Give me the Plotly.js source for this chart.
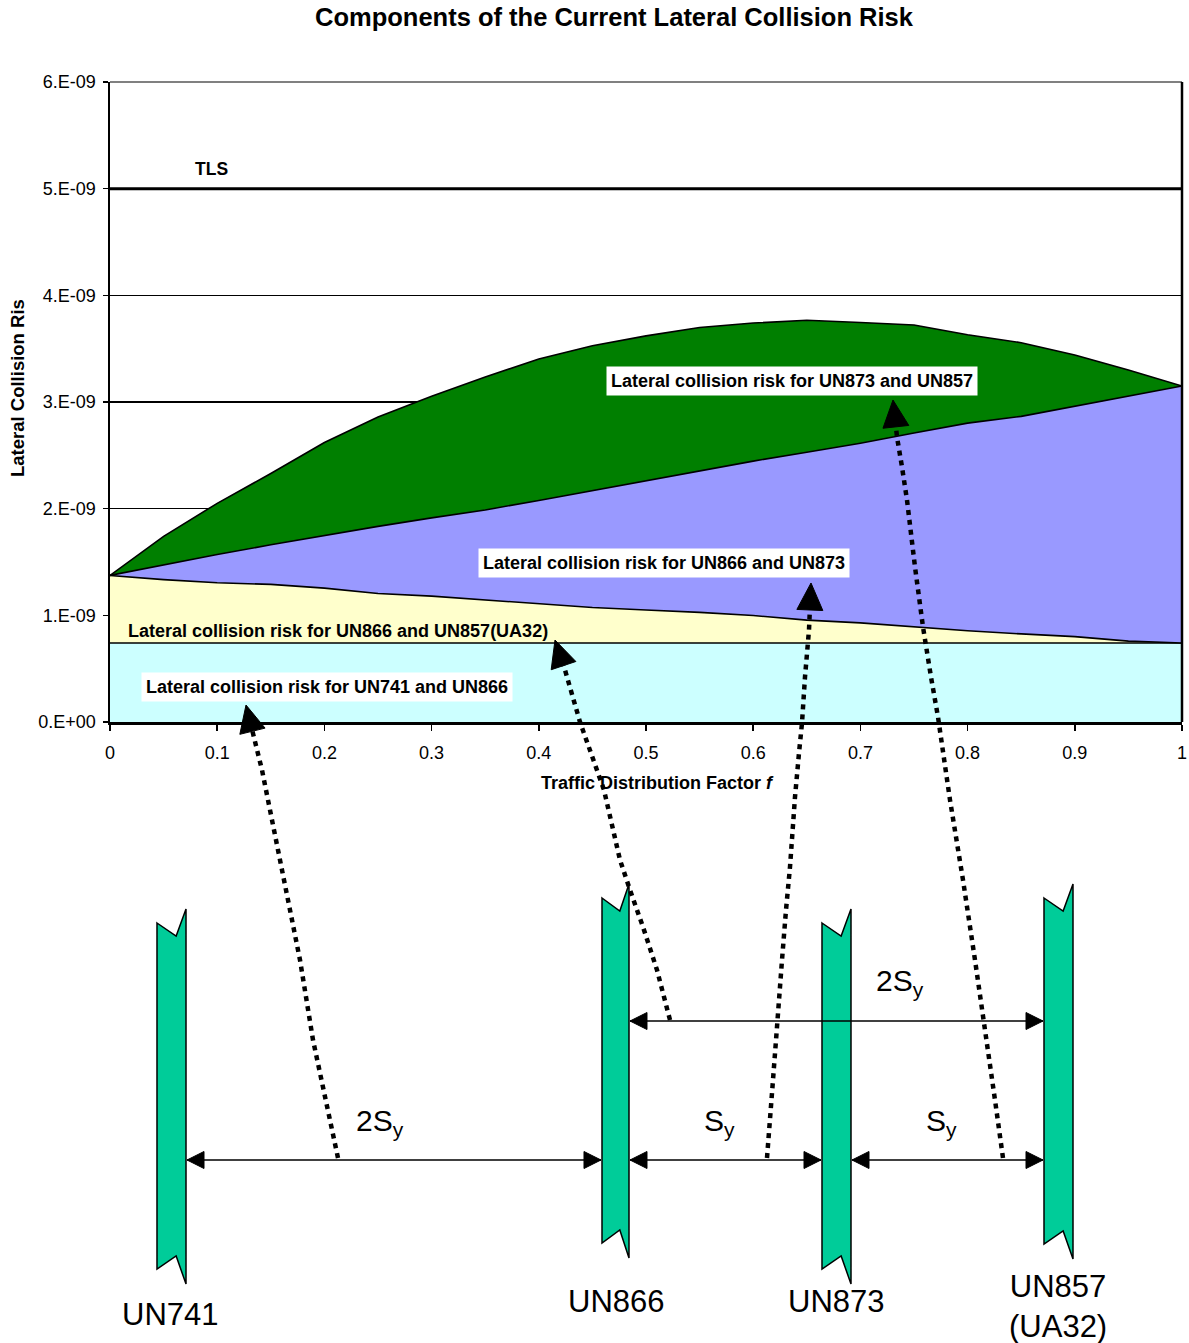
<!DOCTYPE html>
<html>
<head>
<meta charset="utf-8">
<script src="https://cdn.plot.ly/plotly-3.0.1.min.js"></script>
<style>html,body{margin:0;padding:0;background:#fff;}#chart{width:1189px;height:1343px;}</style>
</head>
<body>
<div id="chart"></div>
<script>
// ---------- DATA (risk values in units of 1E-09) ----------
const trafficFactor = [0,0.05,0.1,0.15,0.2,0.25,0.3,0.35,0.4,0.45,0.5,0.55,0.6,0.65,0.7,0.75,0.8,0.85,0.9,0.95,1.0];
const riskUN741_UN866 = [0.74,0.74,0.74,0.74,0.74,0.74,0.74,0.74,0.74,0.74,0.74,0.74,0.74,0.74,0.74,0.74,0.74,0.74,0.74,0.74,0.74];
const riskUN866_UN857 = [0.634,0.595,0.565,0.55,0.515,0.465,0.44,0.405,0.367,0.333,0.31,0.288,0.258,0.215,0.189,0.15,0.115,0.086,0.06,0.018,0.0];
const riskUN866_UN873 = [0,0.139,0.266,0.371,0.496,0.629,0.734,0.843,0.97,1.097,1.215,1.331,1.448,1.574,1.685,1.819,1.947,2.039,2.158,2.296,2.41];
const riskUN873_UN857 = [0,0.266,0.479,0.669,0.869,1.026,1.14,1.246,1.327,1.358,1.355,1.339,1.294,1.237,1.131,1.013,0.828,0.691,0.482,0.246,0];
const tlsValue = 5;
const yTickVals = [0,1,2,3,4,5,6];
const yTickText = ["0.E+00","1.E-09","2.E-09","3.E-09","4.E-09","5.E-09","6.E-09"];
const xTickVals = [0,0.1,0.2,0.3,0.4,0.5,0.6,0.7,0.8,0.9,1];
const xTickText = ["0","0.1","0.2","0.3","0.4","0.5","0.6","0.7","0.8","0.9","1"];
const routeNames = ["UN741","UN866","UN873","UN857<br>(UA32)"];

// ---------- LAYOUT HELPERS ----------
const FONT = "Liberation Sans, Arial, sans-serif";
const L = 110, R = 1182, T = 82, B = 722;
const PX = px => (px - L) / (R - L);
const PY = py => (B - py) / (B - T);
const pt = (x, y) => PX(x).toFixed(5) + "," + PY(y).toFixed(5);

function stackTrace(name, vals, fill) {
  return {
    x: trafficFactor, y: vals, name: name, type: "scatter", mode: "lines",
    stackgroup: "risk", fillcolor: fill,
    line: {color: "#000", width: 1.6, shape: "linear"},
    hoverinfo: "skip"
  };
}
const traces = [
  stackTrace("UN741-UN866", riskUN741_UN866, "#CCFFFF"),
  stackTrace("UN866-UN857", riskUN866_UN857, "#FFFFCC"),
  stackTrace("UN866-UN873", riskUN866_UN873, "#9999FF"),
  stackTrace("UN873-UN857", riskUN873_UN857, "#007F00")
];

const shapes = [];
const annotations = [];

// TLS line, frame lines
shapes.push({type:"line", xref:"paper", yref:"y", x0:0, x1:1, y0:tlsValue, y1:tlsValue, line:{color:"#000", width:3}});
shapes.push({type:"line", xref:"paper", yref:"paper", x0:0, x1:1, y0:1, y1:1, line:{color:"#808080", width:2}});
shapes.push({type:"line", xref:"paper", yref:"paper", x0:1, x1:1, y0:0, y1:1, line:{color:"#000", width:2.5}});

// Route bars (diagram)
function routeBar(xl, xr, yTop, yBot) {
  const xn = xl + 0.66 * (xr - xl);
  const d = "M" + pt(xl, yTop) + " L" + pt(xn, yTop + 13) + " L" + pt(xr, yTop - 14) +
            " L" + pt(xr, yBot + 15) + " L" + pt(xn, yBot - 13) + " L" + pt(xl, yBot) + " Z";
  shapes.push({type:"path", xref:"paper", yref:"paper", path:d, fillcolor:"#00CC99", line:{color:"#000", width:1.5}});
}
routeBar(157, 186, 923, 1269);
routeBar(602, 629, 898, 1243);
routeBar(822, 851, 923, 1269);
routeBar(1044, 1073, 898, 1244);

// solid double-headed dimension arrows
function head(tx, ty, dir, len, hw) { // dir: +1 points right, -1 points left
  const bx = tx - dir * len;
  const d = "M" + pt(tx, ty) + " L" + pt(bx, ty - hw) + " L" + pt(bx, ty + hw) + " Z";
  shapes.push({type:"path", xref:"paper", yref:"paper", path:d, fillcolor:"#000", line:{color:"#000", width:1}});
}
function dimArrow(x0, x1, y) {
  shapes.push({type:"line", xref:"paper", yref:"paper", x0:PX(x0), x1:PX(x1), y0:PY(y), y1:PY(y), line:{color:"#000", width:1.5}});
  head(x0, y, -1, 17, 8.5);
  head(x1, y, 1, 17, 8.5);
}
dimArrow(187, 601, 1160);
dimArrow(630, 821, 1160);
dimArrow(852, 1043, 1160);
dimArrow(630, 1043, 1021);

// dotted arrows to chart labels
function dottedArrow(pts) {
  const n = pts.length;
  const tip = pts[n - 1], prev = pts[n - 2];
  let ux = tip[0] - prev[0], uy = tip[1] - prev[1];
  const m = Math.hypot(ux, uy); ux /= m; uy /= m;
  const len = 27, hw = 13;
  const bx = tip[0] - ux * len, by = tip[1] - uy * len;
  let d = "M" + pt(pts[0][0], pts[0][1]);
  for (let i = 1; i < n - 1; i++) d += " L" + pt(pts[i][0], pts[i][1]);
  d += " L" + pt(bx, by);
  shapes.push({type:"path", xref:"paper", yref:"paper", path:d, line:{color:"#000", width:4.5, dash:"5px,5px"}});
  const nx = -uy, ny = ux;
  const h = "M" + pt(tip[0], tip[1]) + " L" + pt(bx + nx * hw, by + ny * hw) + " L" + pt(bx - nx * hw, by - ny * hw) + " Z";
  shapes.push({type:"path", xref:"paper", yref:"paper", path:h, fillcolor:"#000", line:{color:"#000", width:1}});
}
dottedArrow([[338,1158],[313,1040],[300,960],[278,850],[262,770],[246,705]]);
dottedArrow([[670,1020],[657,970],[643,927],[630,890],[620,860],[604,790],[580,722],[565,670],[555,640]]);
dottedArrow([[767,1158],[772,1093],[777,1027],[782,960],[786,910],[790,867],[795,797],[799,753],[802,723],[805,677],[809,630],[811,583]]);
dottedArrow([[1003,1158],[995,1100],[985,1030],[975,960],[963,880],[950,800],[938,717],[931,677],[923,627],[915,567],[907,500],[902,467],[897,437],[893,400]]);

// text helpers
function txt(text, x, y, size, opts) {
  annotations.push(Object.assign({
    text: text, xref:"paper", yref:"paper", x: PX(x), y: PY(y),
    xanchor:"center", yanchor:"middle", showarrow:false,
    font:{family:FONT, size:size, color:"#000"}
  }, opts || {}));
}
const labBox = {bgcolor:"#FFFFFF", borderpad:4};
txt("<b>TLS</b>", 211, 169, 17.5);
txt("<b>Lateral collision risk for UN873 and UN857</b>", 792, 381, 18, labBox);
txt("<b>Lateral collision risk for UN866 and UN873</b>", 664, 563, 18, labBox);
txt("<b>Lateral collision risk for UN866 and UN857(UA32)</b>", 338, 631, 18);
txt("<b>Lateral collision risk for UN741 and UN866</b>", 327, 687, 18, labBox);
txt("<b>Traffic Distribution Factor <i>f</i></b>", 657, 783, 18);
txt("<b>Lateral Collision Ris</b>", 17, 388, 18.5, {textangle:-90});

// diagram labels
txt(routeNames[0], 170, 1314, 31);
txt(routeNames[1], 616, 1301, 31);
txt(routeNames[2], 836, 1301, 31);
txt(routeNames[3], 1058, 1306, 31);
txt("2S<sub>y</sub>", 380, 1122, 30);
txt("S<sub>y</sub>", 719, 1122, 30);
txt("S<sub>y</sub>", 941, 1122, 30);
txt("2S<sub>y</sub>", 900, 982, 30);

const layout = {
  width: 1189, height: 1343,
  margin: {l: L, r: 1189 - R, t: T, b: 1343 - B, pad: 0},
  paper_bgcolor: "#fff", plot_bgcolor: "#fff",
  showlegend: false,
  font: {family: FONT, color: "#000"},
  title: {text: "<b>Components of the Current Lateral Collision Risk</b>", font:{family:FONT, size:25.5, color:"#000"},
          x: 614/1189, xref:"container", xanchor:"center", y: 1 - 17/1343, yref:"container", yanchor:"middle"},
  xaxis: {range:[0,1], tickvals:xTickVals, ticktext:xTickText, showgrid:false, zeroline:false,
          showline:true, linecolor:"#000", linewidth:2.5, ticks:"outside", ticklen:6, tickwidth:1.5, tickcolor:"#000",
          ticklabelstandoff:7, tickfont:{family:FONT, size:18}, fixedrange:true},
  yaxis: {range:[0,6], tickvals:yTickVals, ticktext:yTickText, showgrid:true, gridcolor:"#000", gridwidth:1.2, zeroline:false,
          showline:true, linecolor:"#000", linewidth:2.5, ticks:"outside", ticklen:5, tickwidth:1.5, tickcolor:"#000",
          ticklabelstandoff:3, tickfont:{family:FONT, size:18}, fixedrange:true},
  shapes: shapes,
  annotations: annotations
};
Plotly.newPlot("chart", traces, layout, {staticPlot:true, displayModeBar:false});
</script>
</body>
</html>
